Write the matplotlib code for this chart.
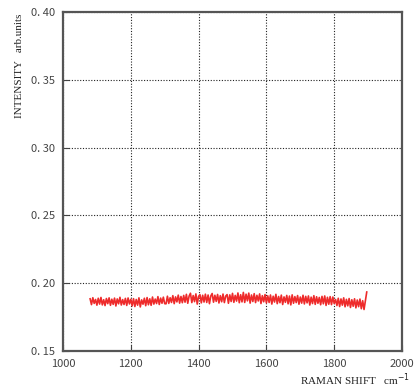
import numpy as np
import matplotlib
matplotlib.use("Agg")
import matplotlib.pyplot as plt

# Raman shift axis (cm-1), evenly sampled
shift_start, shift_stop, shift_step = 1080, 1896, 4
raman_shift = np.arange(shift_start, shift_stop + 1, shift_step)

# intensity values (arb. units)
intensity = [
    0.1885, 0.1842, 0.1893, 0.1851, 0.1880, 0.1838, 0.1889, 0.1846, 0.1895, 0.1840,
    0.1878, 0.1835, 0.1887, 0.1849, 0.1892, 0.1837, 0.1882, 0.1844, 0.1890, 0.1832,
    0.1884, 0.1848, 0.1896, 0.1839, 0.1879, 0.1843, 0.1888, 0.1836, 0.1891, 0.1847,
    0.1881,
    0.1833, 0.1886, 0.1828, 0.1880, 0.1838, 0.1892, 0.1825, 0.1877, 0.1845, 0.1889,
    0.1834, 0.1894, 0.1841, 0.1885, 0.1837, 0.1898, 0.1846, 0.1883, 0.1850, 0.1901,
    0.1843, 0.1890, 0.1852, 0.1897, 0.1849,
    0.1848, 0.1904, 0.1851, 0.1893, 0.1858, 0.1908, 0.1849, 0.1899, 0.1862, 0.1912,
    0.1853, 0.1902, 0.1856, 0.1910, 0.1860, 0.1918, 0.1852, 0.1905, 0.1926, 0.1857,
    0.1909, 0.1864, 0.1921, 0.1846, 0.1903, 0.1915, 0.1855, 0.1911, 0.1861, 0.1919,
    0.1858, 0.1913, 0.1849, 0.1906, 0.1924, 0.1860, 0.1911, 0.1866, 0.1917, 0.1854,
    0.1908, 0.1863, 0.1920, 0.1857, 0.1905, 0.1916, 0.1852, 0.1914, 0.1865, 0.1925,
    0.1859, 0.1910, 0.1868, 0.1928, 0.1856, 0.1915, 0.1862, 0.1932, 0.1858, 0.1919,
    0.1870, 0.1927, 0.1853, 0.1913, 0.1865, 0.1923, 0.1857, 0.1911, 0.1869, 0.1921,
    0.1850, 0.1908, 0.1863, 0.1916, 0.1855,
    0.1907, 0.1858, 0.1913, 0.1846, 0.1904, 0.1861, 0.1918, 0.1849, 0.1902, 0.1856,
    0.1912, 0.1843, 0.1899, 0.1859, 0.1910, 0.1848, 0.1905, 0.1840, 0.1914, 0.1852,
    0.1901, 0.1857, 0.1909, 0.1845, 0.1898, 0.1853, 0.1911, 0.1847, 0.1903, 0.1855,
    0.1906, 0.1839, 0.1897, 0.1850, 0.1908, 0.1844, 0.1900, 0.1852, 0.1895, 0.1841,
    0.1903, 0.1848, 0.1906, 0.1836, 0.1896, 0.1845, 0.1901, 0.1842, 0.1898, 0.1850,
    0.1880, 0.1835, 0.1889, 0.1828, 0.1884, 0.1838, 0.1892, 0.1826, 0.1881, 0.1833,
    0.1887, 0.1821, 0.1878, 0.1830, 0.1885, 0.1818, 0.1876, 0.1827, 0.1883, 0.1812,
    0.1871, 0.1806, 0.1868, 0.1935,
]

x_ticks = [1000, 1200, 1400, 1600, 1800, 2000]
y_ticks = [0.15, 0.20, 0.25, 0.30, 0.35, 0.40]
y_tick_labels = ["0. 15", "0. 20", "0. 25", "0. 30", "0. 35", "0. 40"]

fig = plt.figure(figsize=(4.16, 3.87), dpi=100)
ax = fig.add_axes([63 / 416, 1 - 351 / 387, (402 - 63) / 416, (351 - 12) / 387])

ax.plot(raman_shift, intensity, color="#ee2b2b", linewidth=1.2)

ax.set_xlim(1000, 2000)
ax.set_ylim(0.15, 0.40)
ax.set_xticks(x_ticks)
ax.set_yticks(y_ticks)
ax.set_yticklabels(y_tick_labels)

for lab in ax.get_xticklabels() + ax.get_yticklabels():
    lab.set_fontfamily(["Noto Sans CJK JP", "DejaVu Sans"])
    lab.set_fontsize(8)
    lab.set_color("#444444")

ax.tick_params(direction="in", length=4, width=0.8, colors="#444444")
ax.tick_params(axis="y", pad=6)
ax.tick_params(axis="x", pad=6)
ax.grid(True, color="#222222", linestyle=(0, (1, 1.5)), linewidth=0.8)

for sp in ax.spines.values():
    sp.set_color("#555555")
    sp.set_linewidth(1.6)

fig.text(410 / 416, 1 - 380 / 387, r"RAMAN SHIFT   cm$^{-1}$", ha="right", va="center",
         family="Liberation Serif", fontsize=8, color="#222222")
fig.text(20 / 416, 1 - 14 / 387, "INTENSITY   arb.units", ha="center", va="top",
         rotation=90, family="Liberation Serif", fontsize=8, color="#222222")

fig.savefig("out.png", dpi=100)
